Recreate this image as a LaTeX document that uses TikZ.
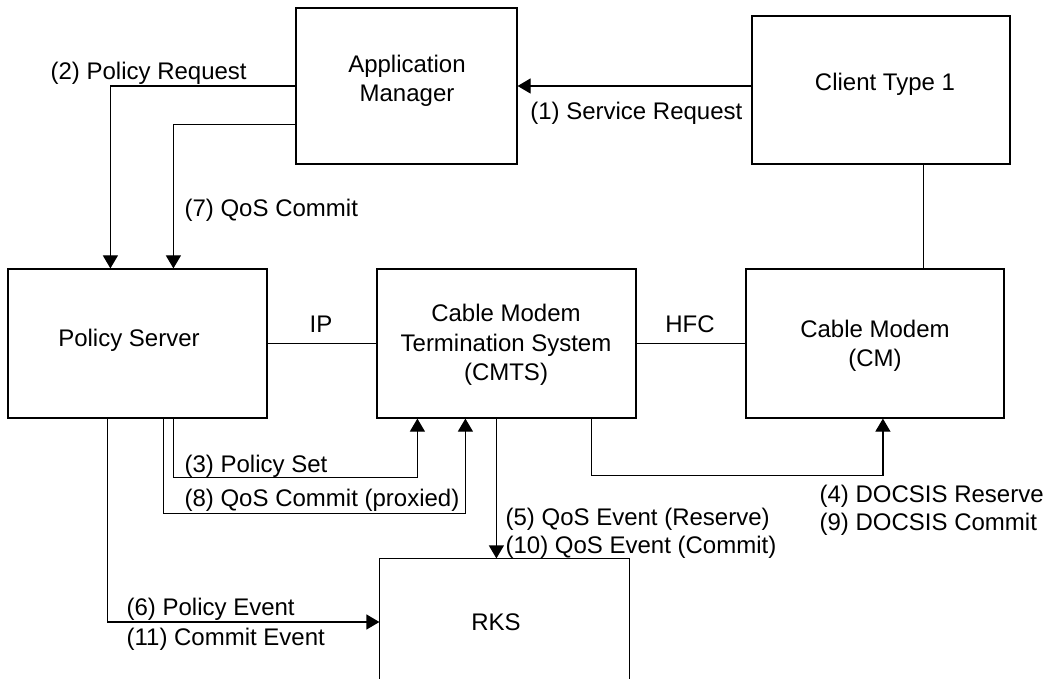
\documentclass[tikz,border=0pt]{standalone}
\usepackage{fontspec}
\setmainfont{Liberation Sans}
\usetikzlibrary{arrows.meta,calc,fit}
\begin{document}
\begin{tikzpicture}[x=0.5pt,y=-0.5pt,
  line width=0.6pt,
  box/.style={draw,inner sep=0pt,fit={#1}},
  txt/.style={inner sep=0pt,font=\fontsize{12}{14.75}\selectfont,align=center},
  lbl/.style={inner sep=0pt,font=\fontsize{12}{14.5}\selectfont,anchor=base west},
  arr/.style={-{Triangle[length=6.5pt,width=7.5pt]}}]
\useasboundingbox (0,0) rectangle (1050,679);

% boxes
\node[box={(296,8) (517,164)}] (am) {};
\node[box={(752,16) (1010,164)}] (cl) {};
\node[box={(8,269) (267,418)}] (ps) {};
\node[box={(377,269) (636,418)}] (cmts) {};
\node[box={(746,269) (1004,418)}] (cm) {};
\node[inner sep=0pt,fit={(380,559) (629,685)}] (rks) {};
\draw (rks.south west) -- (rks.north west) -- (rks.north east) -- (rks.south east);

% box texts
\node[txt] (amt) at (407,81) {Application\\Manager};
\node[txt,anchor=base] (clt) at (885,91) {Client Type 1};
\node[txt,anchor=base] (pst) at (129,347) {Policy Server};
\node[txt] (cmtst) at (506,345) {Cable Modem\\Termination System\\(CMTS)};
\node[txt] (cmt) at (875,346) {Cable Modem\\(CM)};
\node[txt,anchor=base] (rkst) at (496,630) {RKS};

% connectors
\draw[arr] (cl.west |- am.east) -- (am.east);
\draw[arr] (am.west) -| ($(ps.north west)+(103,0)$);
\draw[arr] ($(am.south west)+(0,-40)$) -| ($(ps.north west)+(166,0)$);
\draw ($(cl.south west)+(172,0)$) -- ($(cm.north west)+(178,0)$);
\draw (ps.east) -- (cmts.west);
\draw (cmts.east) -- (cm.west);
\draw[arr] ($(ps.south west)+(166,0)$) -- ++(0,59) -| ($(cmts.south west)+(41,0)$);
\draw[arr] ($(ps.south west)+(156,0)$) -- ++(0,95) -| ($(cmts.south west)+(89,0)$);
\draw[arr] ($(ps.south west)+(100,0)$) |- (rks.west);
\draw[arr] ($(cmts.south west)+(120,0)$) coordinate (q) -- (q |- rks.north);
\draw[arr] ($(cmts.south west)+(215,0)$) -- ++(0,57) -| ($(cm.south west)+(137.5,0)$);

% connector labels
\node[lbl,anchor=base east] (l1) at (743,120) {(1) Service Request};
\node[lbl] (l2) at (50,80) {(2) Policy Request};
\node[lbl] (l7) at (184,217) {(7) QoS Commit};
\node[lbl,anchor=base] (lip) at (321,333) {IP};
\node[lbl,anchor=base] (lhfc) at (690,333) {HFC};
\node[lbl] (l3) at (184,472) {(3) Policy Set};
\node[lbl] (l8) at (184,506) {(8) QoS Commit (proxied)};
\node[lbl] (l6) at (126,615) {(6) Policy Event};
\node[lbl] (l11) at (126,645) {(11) Commit Event};
\node[lbl] (l5) at (505,525) {(5) QoS Event (Reserve)};
\node[lbl] (l10) at (505,553) {(10) QoS Event (Commit)};
\node[lbl] (l4) at (819,502) {(4) DOCSIS Reserve};
\node[lbl] (l9) at (819,530) {(9) DOCSIS Commit};
\end{tikzpicture}
\end{document}
